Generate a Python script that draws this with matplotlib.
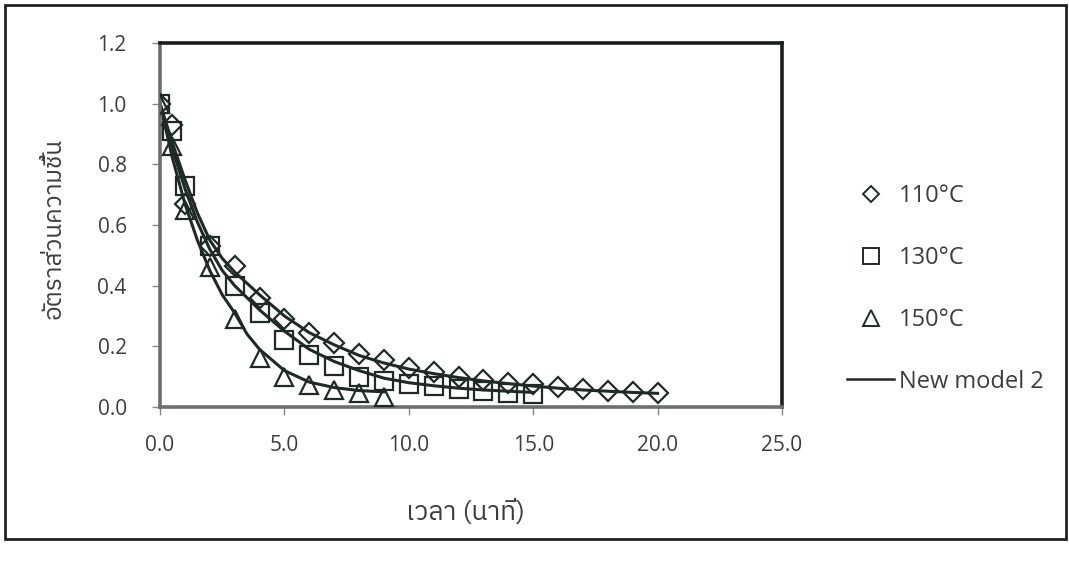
import matplotlib
matplotlib.use("Agg")
import matplotlib.pyplot as plt
from matplotlib.lines import Line2D
from matplotlib.patches import Rectangle

# datos experimentales (razon de humedad vs tiempo)
t_110 = [0, 0.5, 1, 2, 3, 4, 5, 6, 7, 8, 9, 10, 11, 12, 13, 14, 15, 16, 17, 18, 19, 20]
mr_110 = [1.0, 0.93, 0.67, 0.53, 0.465, 0.36, 0.29, 0.245, 0.21, 0.175, 0.155, 0.13,
          0.115, 0.10, 0.09, 0.08, 0.075, 0.065, 0.058, 0.053, 0.05, 0.046]
t_130 = [0, 0.5, 1, 2, 3, 4, 5, 6, 7, 8, 9, 10, 11, 12, 13, 14, 15]
mr_130 = [1.0, 0.91, 0.73, 0.53, 0.40, 0.31, 0.22, 0.17, 0.135, 0.10, 0.085, 0.075,
          0.068, 0.06, 0.052, 0.047, 0.043]
t_150 = [0, 0.5, 1, 2, 3, 4, 5, 6, 7, 8, 9]
mr_150 = [1.0, 0.86, 0.65, 0.46, 0.29, 0.16, 0.10, 0.073, 0.056, 0.046, 0.034]

# curvas del modelo
tm_110 = [0, 0.5, 1, 1.5, 2, 2.5, 3, 4, 5, 6, 7, 8, 9, 10, 11, 12, 13, 14, 15, 16, 17, 18, 19, 20]
m_110 = [1.0, 0.87, 0.75, 0.64, 0.55, 0.49, 0.445, 0.37, 0.30, 0.245, 0.205, 0.17, 0.145,
         0.125, 0.11, 0.097, 0.086, 0.077, 0.069, 0.062, 0.056, 0.052, 0.048, 0.045]
tm_130 = [0, 0.5, 1, 1.5, 2, 2.5, 3, 4, 5, 6, 7, 8, 9, 10, 11, 12, 13, 14, 15]
m_130 = [1.0, 0.85, 0.72, 0.61, 0.52, 0.45, 0.40, 0.32, 0.25, 0.19, 0.15, 0.12, 0.095,
         0.08, 0.07, 0.062, 0.056, 0.052, 0.048]
tm_150 = [0, 0.5, 1, 1.5, 2, 2.5, 3, 3.5, 4, 5, 6, 7, 8, 9]
m_150 = [1.0, 0.82, 0.67, 0.55, 0.45, 0.37, 0.31, 0.24, 0.19, 0.12, 0.082, 0.064, 0.054, 0.05]

labels = ["110°C", "130°C", "150°C", "New model 2"]
xticks = [0, 5, 10, 15, 20, 25]
yticks = [0, 0.2, 0.4, 0.6, 0.8, 1.0, 1.2]
ylabel = "อัตราส่วนความชื้น"
xlabel = "เวลา (นาที)"

INK = "#1f2a27"
TXT = "#3a3f3d"
THAI = ["IBM Plex Sans Thai", "Kanit", "DejaVu Sans"]
LATIN = ["Open Sans", "DejaVu Sans"]

fig = plt.figure(figsize=(10.69, 5.64), dpi=100)
ax = fig.add_axes([0.1497, 0.2784, 0.5818, 0.6454])

mk = dict(ls="none", mfc="none", mec=INK, mew=1.6, zorder=3)
ax.plot(t_110, mr_110, marker="D", ms=10.5, **mk)
ax.plot(t_130, mr_130, marker="s", ms=13.5, **mk)
ax.plot(t_150, mr_150, marker="^", ms=13.5, **mk)
for tt, mm in [(tm_110, m_110), (tm_130, m_130), (tm_150, m_150)]:
    ax.plot(tt, mm, color=INK, lw=2.2, zorder=2)

ax.set_xlim(0, 25)
ax.set_ylim(0, 1.2)
ax.set_xticks(xticks)
ax.set_xticklabels([f"{v:.1f}" for v in xticks], family=LATIN, fontsize=15, color=TXT)
ax.set_yticks(yticks)
ax.set_yticklabels([f"{v:.1f}" for v in yticks], family=LATIN, fontsize=15, color=TXT)
ax.tick_params(axis="x", direction="out", length=6, width=1, color="#888888", pad=14)
ax.tick_params(axis="y", direction="out", length=6, width=1, color="#888888", pad=18)

for side in ["top", "right"]:
    ax.spines[side].set_color("#1a1f1d")
    ax.spines[side].set_linewidth(2.6)
for side in ["left", "bottom"]:
    ax.spines[side].set_color("#6b706e")
    ax.spines[side].set_linewidth(2.6)

fig.text(54 / 1069, 1 - 228 / 564, ylabel, rotation=90, ha="center", va="center",
         family=THAI, fontsize=17.5, color=TXT)
fig.text(465 / 1069, 1 - 512 / 564, xlabel, ha="center", va="center",
         family=THAI, fontsize=19, color=TXT)

handles = [
    Line2D([], [], ls="none", marker="D", ms=8, mfc="none", mec=INK, mew=1.4),
    Line2D([], [], ls="none", marker="s", ms=11, mfc="none", mec=INK, mew=1.4),
    Line2D([], [], ls="none", marker="^", ms=12, mfc="none", mec=INK, mew=1.4),
    Line2D([], [], color=INK, lw=1.8),
]
leg = fig.legend(handles, labels, loc="center left", bbox_to_anchor=(826 / 1069, 1 - 289 / 564),
                 frameon=False, prop={"family": LATIN, "size": 17},
                 handlelength=2.0, handletextpad=0.2, labelspacing=1.6)
for txt in leg.get_texts():
    txt.set_color(TXT)

# marco exterior de la figura
fig.patches.append(Rectangle((0.005, 0.044), 0.992, 0.947, transform=fig.transFigure,
                             fill=False, lw=2, ec="#222222"))

fig.savefig("out.png", dpi=100)
